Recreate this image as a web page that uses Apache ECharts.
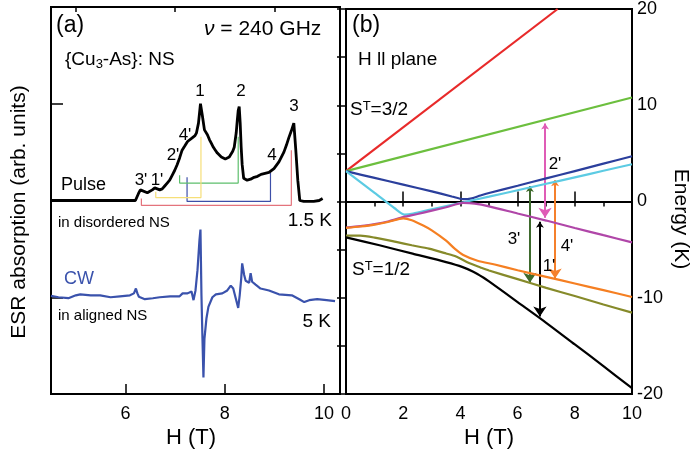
<!DOCTYPE html>
<html><head><meta charset="utf-8">
<script src="https://cdn.jsdelivr.net/npm/echarts@6/dist/echarts.min.js"></script>
<style>html,body{margin:0;padding:0;background:#fff}#c{width:694px;height:463px}</style>
</head><body><div id="c"></div>
<script>
const FONT = '"Liberation Sans", Arial, sans-serif';

// ---------- Panel (a): ESR spectra ----------
const pulseH = [4.5,5.0,5.5,5.9,6.2,6.26,6.30,6.34,6.44,6.54,6.59,6.64,6.69,6.74,6.79,6.84,6.89,6.94,6.99,7.04,7.09,7.14,7.19,7.25,7.29,7.35,7.40,7.43,7.47,7.50,7.51,7.55,7.59,7.65,7.69,7.73,7.77,7.81,7.85,7.89,7.93,7.97,8.01,8.05,8.09,8.13,8.16,8.19,8.23,8.25,8.27,8.29,8.31,8.33,8.35,8.38,8.45,8.52,8.59,8.66,8.73,8.81,8.89,8.99,9.09,9.19,9.24,9.29,9.34,9.39,9.43,9.47,9.51,9.59,9.70,9.79,9.90,9.97];
const pulseY = [2.00,2.00,2.00,2.00,2.00,2.07,2.11,2.10,2.08,2.11,2.13,2.12,2.11,2.12,2.15,2.18,2.21,2.26,2.31,2.37,2.44,2.52,2.56,2.61,2.63,2.65,2.67,2.70,2.80,2.95,3.00,2.87,2.73,2.68,2.63,2.59,2.55,2.52,2.49,2.47,2.45,2.44,2.43,2.44,2.45,2.47,2.51,2.55,2.70,2.82,2.93,2.97,2.80,2.55,2.37,2.23,2.21,2.22,2.24,2.25,2.27,2.28,2.29,2.33,2.40,2.50,2.57,2.65,2.72,2.80,2.52,2.21,2.00,1.99,1.99,1.99,2.00,2.02];

const cwH = [4.5,4.65,4.85,5.0,5.09,5.3,5.49,5.7,5.89,6.09,6.17,6.21,6.24,6.27,6.39,6.55,6.69,6.9,7.09,7.15,7.25,7.33,7.37,7.41,7.45,7.49,7.51,7.53,7.55,7.57,7.59,7.63,7.67,7.75,7.82,7.95,8.05,8.12,8.17,8.22,8.27,8.30,8.33,8.35,8.39,8.42,8.49,8.52,8.55,8.62,8.72,8.89,9.09,9.35,9.5,9.60,9.7,9.86,10.05,10.22];
const cwY = [1.015,1.00,0.99,1.02,1.03,1.02,1.02,1.00,1.01,1.02,1.04,1.09,1.04,1.005,0.98,0.99,1.00,1.01,1.01,1.04,1.04,1.06,0.97,1.07,1.28,1.59,1.70,1.02,0.58,0.17,0.57,0.78,0.90,1.00,1.03,1.04,1.07,1.12,1.09,0.99,0.89,1.02,1.19,1.35,1.23,1.17,1.15,1.25,1.16,1.13,1.09,1.07,1.03,1.02,0.98,0.95,0.97,0.98,0.97,0.96];

// transition brackets under the pulse spectrum
const bracketYellow = [[6.61,2.09],[6.61,2.03],[7.52,2.03],[7.52,2.66]];
const bracketGreen  = [[7.09,2.26],[7.09,2.18],[8.27,2.18],[8.27,2.66]];
const bracketBlue   = [[7.24,2.24],[7.24,1.99],[8.92,1.99],[8.92,2.29]];
const bracketRed    = [[6.32,2.02],[6.32,1.95],[9.34,1.95],[9.34,2.52]];

const fieldLabelsA = [6, 8, 10];
const fieldMinorA = [5, 7, 9];

// ---------- Panel (b): energy levels ----------
const levelRed = [[0,3.15],[7.4,20]];
const levelGreen = [[0,3.15],[10,10.8]];
const levelBlue = [[0,3.15],[1,2.45],[2,1.75],[3,1.05],[3.7,0.52],[4.1,0.24],[4.4,0.33],[4.7,0.62],[5,0.88],[6,1.64],[7,2.4],[8,3.16],[9,3.93],[10,4.7]];
const levelCyan = [[0,3.15],[1,0.9],[1.7,-0.7],[2.05,-1.36],[2.35,-1.25],[3,-0.8],[4.1,-0.08],[5,0.5],[6,1.17],[7,1.84],[8,2.51],[9,3.19],[10,3.87]];
const levelMagenta = [[0,-2.7],[0.5,-2.55],[1,-2.35],[1.5,-2.05],[2,-1.62],[2.5,-1.3],[3,-0.95],[3.5,-0.6],[4.1,-0.15],[4.5,-0.22],[5,-0.5],[6,-1.25],[7,-1.98],[8,-2.75],[9,-3.5],[10,-4.24]];
const levelOrange = [[0,-2.75],[0.5,-2.6],[1,-2.4],[1.5,-2.1],[2.0,-1.75],[2.3,-1.95],[2.7,-2.5],[3.0,-3.0],[3.5,-4.07],[3.8,-4.9],[4.1,-5.55],[4.6,-6.15],[5.2,-6.55],[6,-7.14],[7,-7.83],[8,-8.52],[9,-9.21],[10,-9.92]];
const levelOlive = [[0,-3.55],[0.5,-3.55],[1,-3.75],[1.75,-4.2],[2.3,-4.55],[2.9,-4.9],[3.5,-5.4],[3.85,-5.72],[4.3,-6.4],[4.7,-6.85],[5,-7.17],[6,-8.07],[7,-8.97],[8,-9.82],[9,-10.7],[10,-11.55]];
const levelBlack = [[0,-3.72],[1.17,-4.55],[2.33,-5.42],[3.5,-6.3],[4.08,-6.82],[4.45,-7.3],[4.8,-7.9],[5,-8.3],[6,-10.45],[7,-12.6],[8,-14.85],[9,-17.1],[10,-19.4]];

// transitions: [H, E_top, E_bottom]
const arrow2p = [6.96, 8.1, -1.7];
const arrow3p = [6.43, 1.62, -8.45];
const arrow1p = [6.78, -2.1, -11.95];
const arrow4p = [7.31, 2.2, -8.0];
const energyLabels = [-20, -10, 0, 10, 20];

function zip(h, y) { return h.map((v, i) => [v, y[i]]); }

const chart = echarts.init(document.getElementById('c'), null, {renderer: 'canvas'});

const axisLine = {show: true, lineStyle: {color: '#000', width: 2}};
const lbl = {color: '#000', fontSize: 18, fontFamily: FONT};

function line(data, color, width, xi, yi, smooth) {
  return {type: 'line', data: data, xAxisIndex: xi, yAxisIndex: yi, showSymbol: false, symbol: 'none',
    smooth: smooth || false, lineStyle: {color: color, width: width}, itemStyle: {color: color},
    animation: false, silent: true};
}
function arrow(a, color) {
  return {type: 'lines', coordinateSystem: 'cartesian2d', xAxisIndex: 2, yAxisIndex: 2,
    symbol: ['arrow', 'arrow'], symbolSize: [6, 10], animation: false, silent: true,
    lineStyle: {color: color, width: 2, opacity: 1},
    data: [{coords: [[a[0], a[1]], [a[0], a[2]]]}]};
}
function txt(x, y, text, size, opts) {
  opts = opts || {};
  return {type: 'text', x: x, y: y, rotation: opts.rot || 0, z: 100,
    style: {text: text, fontSize: size, fontFamily: FONT, fill: opts.color || '#000',
      align: opts.align || 'left', verticalAlign: 'middle', rich: opts.rich}};
}

const option = {
  animation: false,
  backgroundColor: '#fff',
  grid: [
    {left: 51, top: 7, width: 289, height: 387, show: true, borderColor: '#000', borderWidth: 2, backgroundColor: 'transparent'},
    {left: 346, top: 7, width: 286, height: 387, show: true, borderColor: '#000', borderWidth: 2, backgroundColor: 'transparent'}
  ],
  xAxis: [
    {gridIndex: 0, type: 'value', min: 4.5, max: 10.32, axisLine: axisLine, splitLine: {show: false},
      axisTick: {inside: true, length: 10, lineStyle: {color: '#000', width: 1.5}, customValues: fieldLabelsA},
      axisLabel: Object.assign({customValues: fieldLabelsA, margin: 11}, lbl)},
    {gridIndex: 0, type: 'value', min: 4.5, max: 10.32, axisLine: {show: false}, splitLine: {show: false},
      axisTick: {inside: true, length: 5, lineStyle: {color: '#000', width: 1.5}, customValues: fieldMinorA},
      axisLabel: {show: false}},
    {gridIndex: 1, type: 'value', min: 0, max: 10, interval: 2, axisLine: axisLine, splitLine: {show: false},
      axisTick: {inside: true, length: 10, lineStyle: {color: '#000', width: 1.5}},
      axisLabel: Object.assign({margin: 11, showMinLabel: true, showMaxLabel: true}, lbl)},
    {gridIndex: 1, type: 'value', min: 0, max: 10, interval: 1, axisLine: {show: false}, splitLine: {show: false},
      axisTick: {inside: true, length: 5, lineStyle: {color: '#000', width: 1.5}},
      axisLabel: {show: false}}
  ],
  yAxis: [
    {gridIndex: 0, type: 'value', min: 0, max: 4, interval: 1, axisLine: axisLine, splitLine: {show: false},
      axisTick: {inside: true, length: 12, lineStyle: {color: '#000', width: 1.5}}, axisLabel: {show: false}},
    {gridIndex: 1, type: 'value', position: 'left', min: -20, max: 20, interval: 5, axisLine: axisLine, splitLine: {show: false},
      axisTick: {inside: false, length: 5, lineStyle: {color: '#000', width: 1.5}}, axisLabel: {show: false}},
    {gridIndex: 1, type: 'value', position: 'right', min: -20, max: 20, interval: 5, axisLine: axisLine, splitLine: {show: false},
      axisTick: {inside: true, length: 9, lineStyle: {color: '#000', width: 1.5}},
      axisLabel: Object.assign({customValues: energyLabels, margin: 5, showMinLabel: true, showMaxLabel: true}, lbl)}
  ],
  series: [
    line(bracketRed, '#e4737c', 1.2, 0, 0),
    line(bracketBlue, '#3d4fa8', 1.2, 0, 0),
    line(bracketGreen, '#5dbf6c', 1.2, 0, 0),
    line(bracketYellow, '#f6df78', 1.2, 0, 0),
    line(zip(cwH, cwY), '#3a52ac', 2.2, 0, 0),
    line(zip(pulseH, pulseY), '#000', 2.8, 0, 0),
    line(levelRed, '#e82a2a', 2.2, 2, 2),
    line(levelGreen, '#6cbf3e', 2.2, 2, 2),
    line(levelBlue, '#2b3f9c', 2.2, 2, 2, 0.25),
    line(levelCyan, '#5ccbe3', 2.2, 2, 2, 0.25),
    line(levelMagenta, '#b046a8', 2.2, 2, 2, 0.25),
    line(levelOrange, '#f57f22', 2.2, 2, 2, 0.25),
    line(levelOlive, '#868a2a', 2.2, 2, 2, 0.25),
    line(levelBlack, '#000', 2.2, 2, 2, 0.25),
    arrow(arrow2p, '#df5cb6'),
    arrow(arrow3p, '#3e6a2d'),
    arrow(arrow1p, '#000'),
    arrow(arrow4p, '#f5802c')
  ],
  graphic: [
    txt(56, 26, '(a)', 23),
    txt(204, 29, '{it|ν} = 240 GHz', 21, {rich: {it: {fontStyle: 'italic', fontSize: 21, fontFamily: FONT}}}),
    txt(65, 60, '{Cu{sub|3}-As}: NS', 19, {rich: {sub: {fontSize: 13, fontFamily: FONT, verticalAlign: 'bottom', padding: [9, 0, 0, 0]}}}),
    txt(200, 91, '1', 17, {align: 'center'}),
    txt(241, 91, '2', 17, {align: 'center'}),
    txt(294, 106, '3', 17, {align: 'center'}),
    txt(272, 155, '4', 17, {align: 'center'}),
    txt(185, 135, "4'", 17, {align: 'center'}),
    txt(173, 155, "2'", 17, {align: 'center'}),
    txt(141, 180, "3'", 17, {align: 'center'}),
    txt(157, 180, "1'", 17, {align: 'center'}),
    txt(61, 185, 'Pulse', 18),
    txt(58, 223, 'in disordered NS', 15),
    txt(332, 221, '1.5 K', 19, {align: 'right'}),
    txt(64, 279, 'CW', 18, {color: '#3a52ac'}),
    txt(58, 316, 'in aligned NS', 15),
    txt(331, 322, '5 K', 19, {align: 'right'}),
    txt(19, 212, 'ESR absorption (arb. units)', 21, {align: 'center', rot: Math.PI / 2}),
    txt(191, 438, 'H (T)', 22, {align: 'center'}),
    txt(352, 26, '(b)', 23),
    txt(358, 60, 'H ll plane', 19),
    txt(350, 110, 'S{sup|T}=3/2', 19, {rich: {sup: {fontSize: 13, fontFamily: FONT, verticalAlign: 'top', padding: [0, 0, 8, 0]}}}),
    txt(352, 270, 'S{sup|T}=1/2', 19, {rich: {sup: {fontSize: 13, fontFamily: FONT, verticalAlign: 'top', padding: [0, 0, 8, 0]}}}),
    txt(555, 164, "2'", 17, {align: 'center'}),
    txt(514, 239, "3'", 17, {align: 'center'}),
    txt(567, 246, "4'", 17, {align: 'center'}),
    txt(549, 266, "1'", 17, {align: 'center'}),
    txt(489, 438, 'H (T)', 22, {align: 'center'}),
    txt(681, 219, 'Energy (K)', 21, {align: 'center', rot: -Math.PI / 2})
  ]
};
chart.setOption(option);
</script></body></html>
